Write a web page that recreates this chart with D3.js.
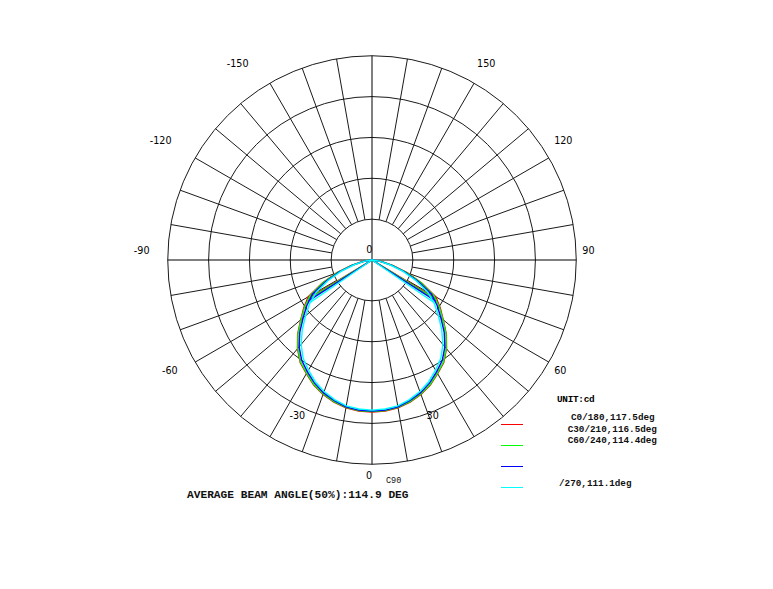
<!DOCTYPE html>
<html>
<head>
<meta charset="utf-8">
<script src="https://cdn.jsdelivr.net/npm/d3@7/dist/d3.min.js"></script>
<style>
  html, body { margin: 0; padding: 0; background: #fff; }
  svg { display: block; }
</style>
</head>
<body>
<script>
// ---------------- DATA ----------------
const gammaAngles = [0, 5, 10, 15, 20, 25, 30, 35, 40, 45, 50, 55, 60, 65, 70, 75, 80, 85, 90];
const c0_180  = [298, 297, 294, 288, 280, 270, 257, 245, 227, 206, 182, 163, 144, 108, 74, 43, 20, 6, 0];
const c30_210 = [297, 296, 293, 287, 279, 269, 256, 244, 226, 205, 181, 161, 140, 106, 72, 42, 19, 6, 0];
const c60_240 = [296, 295, 292, 285, 277, 266, 253, 240, 222, 200, 176, 156, 135, 100, 68, 39, 18, 5, 0];
const c90_270 = [294, 293, 290, 283, 274, 263, 249, 235, 216, 193, 170, 149, 126, 95, 64, 36, 16, 5, 0];
const seriesNames = ["C0/180", "C30/210", "C60/240", "C90/270"];
const beamAngles = [117.5, 116.5, 114.4, 111.1];
const legendLabels = ["C0/180,117.5deg", "C30/210,116.5deg", "C60/240,114.4deg", "/270,111.1deg"];
const tickAngles = [-150, -120, -90, -60, -30, 0, 30, 60, 90, 120, 150];
const ringValues = [80, 160, 240, 320, 400];
const spokeAngles = d3.range(-170, 181, 10);
const averageBeamAngle = 114.9;
const unitLabel = "UNIT:cd";

// ---------------- LAYOUT ----------------
const W = 773, H = 589;
const cx = 372, cy = 260, R = 204.25;
const colors = ["#ff0000", "#00ff00", "#0000ff", "#00ffff"];
// tick label anchor (right edge, baseline) as polar offsets: |angle| -> [placement angle, radius]
const tickLabelPlace = {0: [0, 218.6], 30: [22.8, 172.4], 60: [59.6, 225.4], 90: [91.5, 222.6], 120: [120.05, 231.6], 150: [147.4, 229.1]};

const svg = d3.select("body").append("svg").attr("width", W).attr("height", H);
const g = svg.append("g").attr("transform", `translate(${cx},${cy})`);

const r = d3.scaleLinear().domain([0, d3.max(ringValues)]).range([0, R]);
// angle: 0 deg at bottom, positive to the right; d3 radial angle is clockwise from 12 o'clock
const ang = d3.scaleLinear().domain([0, 180]).range([Math.PI, 0]);
const px = (deg, rad) => rad * Math.sin(ang(deg));
const py = (deg, rad) => -rad * Math.cos(ang(deg));

// ---------------- GRID ----------------
const grid = g.append("g").attr("fill", "none").attr("stroke", "#1a1a1a").attr("stroke-width", 1);
grid.selectAll("circle").data(ringValues).join("circle").attr("r", d => r(d));
grid.selectAll("line.spoke").data(spokeAngles.filter(a => a % 90 !== 0)).join("line")
  .attr("class", "spoke")
  .attr("x1", d => px(d, r(ringValues[0]))).attr("y1", d => py(d, r(ringValues[0])))
  .attr("x2", d => px(d, r(d3.max(ringValues)))).attr("y2", d => py(d, r(d3.max(ringValues))));
grid.selectAll("line.axis").data([0, 90]).join("line")
  .attr("class", "axis")
  .attr("x1", d => px(d, R)).attr("y1", d => py(d, R))
  .attr("x2", d => px(d + 180, R)).attr("y2", d => py(d + 180, R))
  .attr("stroke", "#000");

// ---------------- CURVES ----------------
const seriesData = [c0_180, c30_210, c60_240, c90_270];
const line = d3.lineRadial().angle(d => ang(d.a)).radius(d => r(d.v)).curve(d3.curveLinear);
seriesData.forEach((vals, i) => {
  const left = gammaAngles.map((gm, j) => ({a: -gm, v: vals[j]})).reverse();
  const right = gammaAngles.map((gm, j) => ({a: gm, v: vals[j]})).slice(1);
  const pts = left.concat(right);
  const sg = g.append("g").attr("fill", "none").attr("stroke", colors[i]).attr("stroke-width", 1.4);
  sg.append("path").attr("d", line(pts));
  const half = d3.max(vals) / 2;
  [-1, 1].forEach(s => {
    sg.append("path").attr("d", line([{a: 0, v: 0}, {a: s * beamAngles[i] / 2, v: half}]));
  });
});

// ---------------- LABELS ----------------
const tickFont = "'DejaVu Sans', Verdana, sans-serif";
g.selectAll("text.tick").data(tickAngles).join("text")
  .attr("class", "tick")
  .attr("x", d => Math.sign(d || 1) * px(tickLabelPlace[Math.abs(d)][0], tickLabelPlace[Math.abs(d)][1]))
  .attr("y", d => py(tickLabelPlace[Math.abs(d)][0], tickLabelPlace[Math.abs(d)][1]))
  .attr("text-anchor", "end")
  .attr("font-family", tickFont).attr("font-size", 9.6).attr("fill", "#000")
  .text(d => d === 0 ? "0" : (d < 0 ? "-" + Math.abs(d) : String(d)));
// radial zero label
g.append("text").attr("x", 0.3).attr("y", -7).attr("text-anchor", "end")
  .attr("font-family", tickFont).attr("font-size", 9.6).attr("fill", "#000").text(r.domain()[0]);

const monoFont = "'Liberation Mono', 'Courier New', monospace";
svg.append("text").attr("x", 187).attr("y", 497.5)
  .attr("font-family", monoFont).attr("font-size", 11.2).attr("font-weight", "bold").attr("fill", "#111")
  .text(`AVERAGE BEAM ANGLE(50%):${averageBeamAngle} DEG`);
svg.append("text").attr("x", 386).attr("y", 483)
  .attr("font-family", monoFont).attr("font-size", 8.5).attr("fill", "#111")
  .text(seriesNames[3].split("/")[0]);

// ---------------- LEGEND ----------------
svg.append("text").attr("x", 557).attr("y", 402)
  .attr("font-family", monoFont).attr("font-size", 9.4).attr("font-weight", "bold").attr("fill", "#000")
  .attr("letter-spacing", "-0.3")
  .text(unitLabel);
const legTextX = [571, 567.7, 567.7, 559];
const legTextY = [420, 431.6, 443.3, 486];
svg.selectAll("text.leg").data(legendLabels).join("text")
  .attr("class", "leg")
  .attr("x", (d, i) => legTextX[i]).attr("y", (d, i) => legTextY[i])
  .attr("font-family", monoFont).attr("font-size", 9.3).attr("font-weight", "bold").attr("fill", "#111")
  .text(d => d);
svg.selectAll("line.leg").data(colors).join("line")
  .attr("class", "leg")
  .attr("x1", 501).attr("x2", 523)
  .attr("y1", (d, i) => 424.5 + i * 21).attr("y2", (d, i) => 424.5 + i * 21)
  .attr("stroke", d => d).attr("stroke-width", 1);
</script>
</body>
</html>
